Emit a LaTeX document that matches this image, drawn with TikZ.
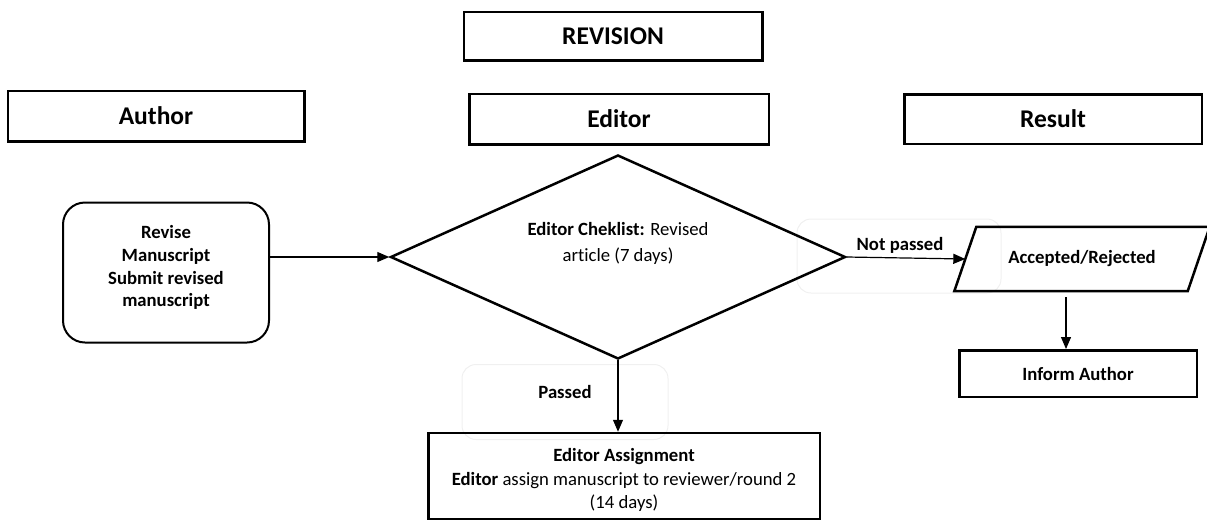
\documentclass[tikz,border=0pt]{standalone}
\usepackage{fontspec}
\setmainfont{Carlito}[Ligatures=NoCommon]
\usepackage{tikz}
\usetikzlibrary{shapes.geometric, arrows.meta, positioning}
\tikzstyle{header} = [rectangle, minimum width=298pt, minimum height=50pt, text centered, draw=black, line width=2.5pt, font=\fontsize{25.5}{30}\selectfont\bfseries]
\tikzstyle{process} = [rectangle, rounded corners=22pt, minimum width=206pt, minimum height=140pt, align=center, draw=black, line width=2pt, font=\fontsize{18.7}{22.8}\selectfont\bfseries]
\tikzstyle{decision} = [diamond, aspect=2.23, minimum width=455pt, minimum height=204pt, inner sep=0pt, align=center, draw=black, line width=2.5pt, font=\fontsize{18.7}{26}\selectfont]
\tikzstyle{io} = [rectangle, minimum width=233pt, minimum height=64pt, align=center, font=\fontsize{18.7}{22}\selectfont\bfseries]
\tikzstyle{task} = [rectangle, align=center, draw=black, line width=2.5pt, font=\fontsize{18.7}{23.5}\selectfont]
\tikzstyle{faintbox} = [rectangle, rounded corners=14pt, draw=black!6, line width=1pt, minimum width=204pt, minimum height=74pt]
\tikzstyle{lbl} = [font=\fontsize{18.7}{22}\selectfont\bfseries, inner sep=0pt]
\tikzstyle{arrow} = [line width=1.2pt, -{Triangle[length=12pt, width=10pt]}]

\begin{document}
\begin{tikzpicture}[x=1pt, y=-1pt]
        \useasboundingbox (0,0) rectangle (1207,523);

        % faint boxes of the connector labels, behind everything
        \node (box_notpassed) [faintbox] at (899,256) {};
        \node (box_passed) [faintbox, minimum width=206pt, minimum height=75pt] at (565,402) {};

        \node (editor) [header, minimum width=299.5pt, minimum height=50.5pt] at (619,119) {Editor};
        \node (revision) [header, above=31pt of editor, xshift=-6pt, minimum width=298.5pt, minimum height=48.5pt] {REVISION};
        \node (author) [header, minimum width=296.5pt, minimum height=50.5pt] at (156,116) {Author};
        \node (result) [header, minimum width=297.5pt, minimum height=49.5pt] at (1053,119) {Result};

        \node (revise) [process] at (166,272.5) {\raisebox{0pt}[0pt][0pt]{\begin{tabular}{@{}c@{}}Revise\\Manuscript\\Submit revised\\manuscript\end{tabular}}};
        \node (check) [decision] at (618,257) {\raisebox{9pt}[0pt][0pt]{\begin{tabular}{@{}c@{}}\textbf{Editor Cheklist:} Revised\\article (7 days)\end{tabular}}};
        \node (accepted) [io] at (1082,259) {Accepted/Rejected};
        \draw [line width=2.5pt] ([xshift=11pt]accepted.north west) -- ([xshift=11pt]accepted.north east)
              -- ([xshift=-11pt]accepted.south east) -- ([xshift=-11pt]accepted.south west) -- cycle;
        \node (inform) [task, minimum width=237.5pt, minimum height=46.5pt, font=\fontsize{18.7}{22}\selectfont\bfseries] at (1078,373.5) {Inform Author};
        \node (assign) [task, minimum width=391.5pt, minimum height=86pt] at (624,476) {\raisebox{-9pt}[0pt][0pt]{\begin{tabular}{@{}c@{}}\textbf{Editor Assignment}\\\textbf{Editor} assign manuscript to reviewer/round 2\\(14 days)\end{tabular}}};

        \node (lbl_notpassed) [lbl] at (900,245) {Not passed};
        \node (lbl_passed) [lbl] at (565,392) {Passed};

        \draw [arrow] (revise.east |- check.west) -- (check.west);
        \draw [arrow] (check.east) -- (accepted.west);
        \draw [arrow] (check.south) -- (check.south |- assign.north);
        \draw [arrow] ([xshift=-16pt, yshift=-6pt]accepted.south) -- ([xshift=-16pt]accepted.south |- inform.north);

\end{tikzpicture}
\end{document}
